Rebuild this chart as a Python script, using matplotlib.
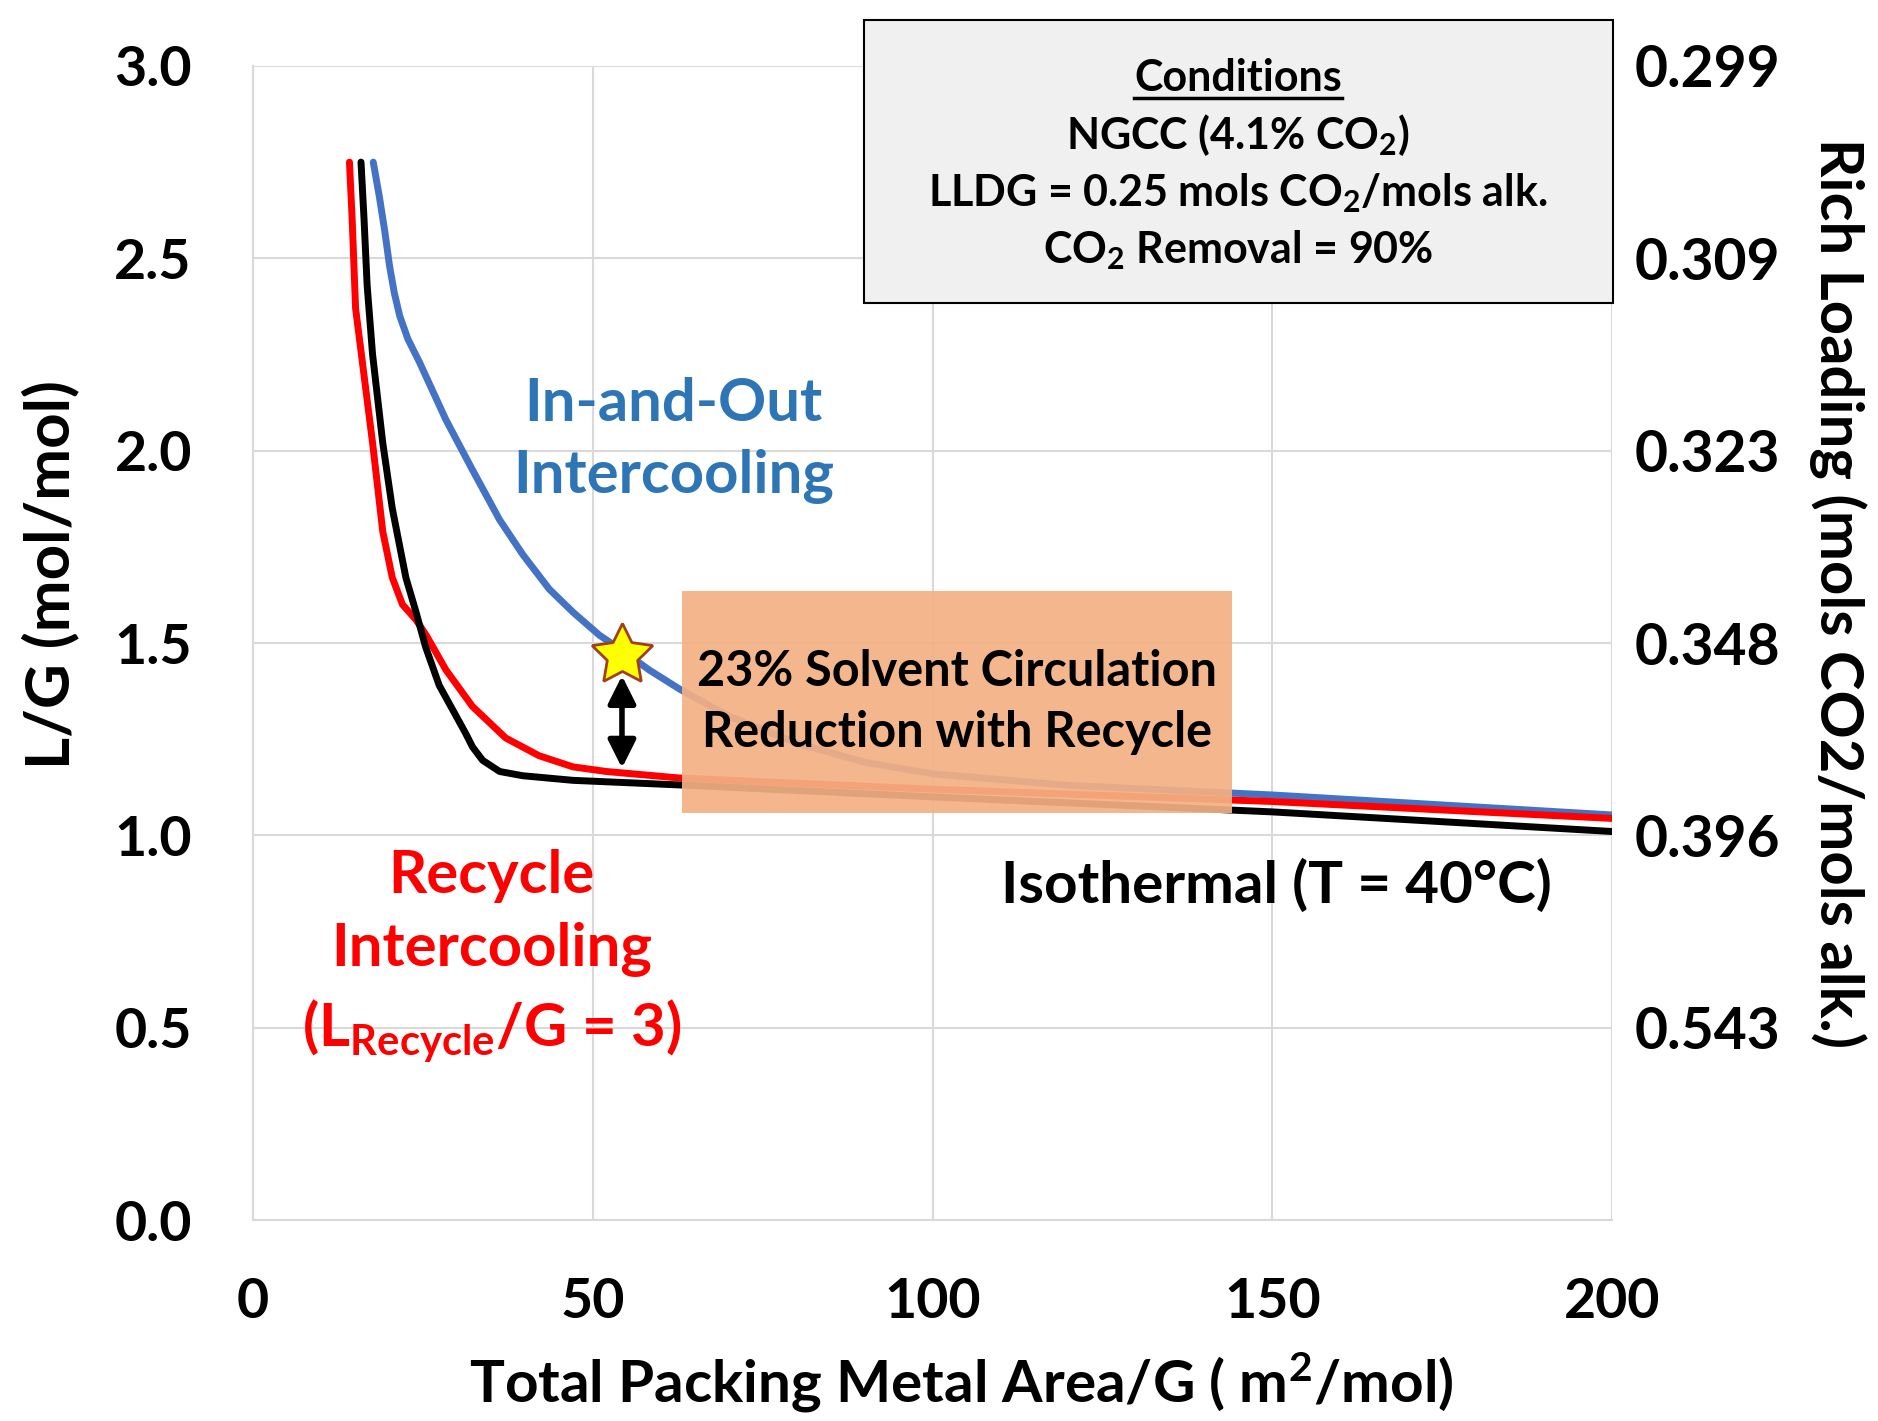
import matplotlib
matplotlib.use("Agg")
import matplotlib.pyplot as plt
from matplotlib.patches import Rectangle
from matplotlib.lines import Line2D

plt.rcParams['font.family'] = ['Lato', 'DejaVu Sans']
plt.rcParams['font.weight'] = 'bold'
plt.rcParams['axes.labelweight'] = 'bold'
plt.rcParams['mathtext.default'] = 'regular'

# curves (x = packing area / G, y = L/G)
x_blue = [17.7, 18.6, 19.4, 20.1, 20.8, 21.6, 22.8, 24.5, 28.4, 32.3, 36.3, 39.7,
          43.6, 47.1, 51.0, 54.4, 58.3, 62.8, 70, 80, 90, 100, 120, 150, 200]
y_blue = [2.75, 2.66, 2.57, 2.48, 2.41, 2.35, 2.29, 2.23, 2.08, 1.95, 1.82, 1.73,
          1.64, 1.58, 1.52, 1.48, 1.43, 1.38, 1.31, 1.24, 1.19, 1.16, 1.13, 1.105, 1.053]

x_red = [14.2, 14.6, 15.1, 16.1, 17.6, 19.1, 20.5, 22.0, 24.0, 25.5, 28.4, 32.3,
         37.2, 42.1, 47.1, 52.0, 62.8, 100, 150, 200]
y_red = [2.75, 2.60, 2.37, 2.23, 2.02, 1.79, 1.67, 1.60, 1.56, 1.52, 1.43, 1.335,
         1.253, 1.207, 1.178, 1.166, 1.149, 1.12, 1.088, 1.044]

x_black = [15.9, 16.35, 16.8, 17.6, 19.1, 20.5, 22.5, 24.0, 25.4, 27.4, 29.9, 31.3,
           32.3, 33.8, 36.3, 39.7, 47.1, 62.8, 100, 150, 200]
y_black = [2.75, 2.60, 2.43, 2.25, 2.02, 1.85, 1.67, 1.58, 1.49, 1.39, 1.31, 1.265,
           1.23, 1.195, 1.166, 1.155, 1.143, 1.131, 1.10, 1.061, 1.010]

star_x, star_y = 54.3, 1.47
arrow_x, arrow_top, arrow_bottom = 54.3, 1.415, 1.175

y_ticks = [0.0, 0.5, 1.0, 1.5, 2.0, 2.5, 3.0]
y_ticklabels = ["0.0", "0.5", "1.0", "1.5", "2.0", "2.5", "3.0"]
rich_loading = ["", "0.543", "0.396", "0.348", "0.323", "0.309", "0.299"]
x_ticks = [0, 50, 100, 150, 200]

box_x0, box_x1, box_y0, box_y1 = 63.1, 144.1, 1.057, 1.636

fig = plt.figure(figsize=(18.78, 14.21), dpi=100)
ax = fig.add_axes([0.1347, 0.1414, 0.7237, 0.8122])

ax.plot(x_blue, y_blue, color="#4472C4", lw=5, solid_capstyle="round", zorder=3)
ax.plot(x_red, y_red, color="#FF0000", lw=5, solid_capstyle="round", zorder=3)
ax.plot(x_black, y_black, color="black", lw=5, solid_capstyle="round", zorder=3)

ax.set_xlim(0, 200)
ax.set_ylim(0, 3.0)
ax.set_xticks(x_ticks)
ax.set_yticks(y_ticks)
ax.set_yticklabels(y_ticklabels)
ax.grid(True, color="#D9D9D9", lw=1.5)
ax.set_axisbelow(True)
for s in ["top", "right"]:
    ax.spines[s].set_visible(False)
for s in ["left", "bottom"]:
    ax.spines[s].set_color("#D9D9D9")
    ax.spines[s].set_linewidth(1.5)
ax.tick_params(length=0, labelsize=40)
ax.tick_params(axis="y", pad=44)
ax.tick_params(axis="x", pad=41)

ax.set_xlabel("Total Packing Metal Area/G ( m$^2$/mol)", fontsize=42)
ax.xaxis.set_label_coords(0.5215, -0.113)
ax.set_ylabel("L/G (mol/mol)", fontsize=44.5, va="center")
ax.yaxis.set_label_coords(-0.1494, 0.559)

ax2 = ax.twinx()
ax2.set_ylim(ax.get_ylim())
ax2.set_yticks(y_ticks)
ax2.set_yticklabels(rich_loading)
ax2.tick_params(length=0, labelsize=41, pad=16)
for s in ax2.spines.values():
    s.set_visible(False)
ax2.set_ylabel("Rich Loading (mols CO2/mols alk.)", fontsize=43, rotation=270, va="center")
ax2.yaxis.set_label_coords(1.1663, 0.5433)

# star and double arrow
ax.plot(star_x, star_y, marker=(5, 1, 0), ms=46, mfc="#FFFF00", mec="#A0401A", mew=2, zorder=6)
ax.annotate("", xy=(arrow_x, arrow_bottom), xytext=(arrow_x, arrow_top),
            arrowprops=dict(arrowstyle="<|-|>", lw=4, color="black", mutation_scale=42,
                            shrinkA=0, shrinkB=0), zorder=6)

# orange callout
ax.add_patch(Rectangle((box_x0, box_y0), box_x1 - box_x0, box_y1 - box_y0,
                       facecolor="#F4B183", edgecolor="none", alpha=0.92, zorder=5))
ax.text((box_x0 + box_x1) / 2, (box_y0 + box_y1) / 2,
        "23% Solvent Circulation\nReduction with Recycle",
        ha="center", va="center", fontsize=35, linespacing=1.45, zorder=7)

# curve labels
ax.text(61.9, 2.027, "In-and-Out\nIntercooling", color="#2E75B6", fontsize=43,
        ha="center", va="center", linespacing=1.42)
ax.text(35.1, 0.684, "Recycle\nIntercooling\n(L$_{Recycle}$/G = 3)", color="#FF0000",
        fontsize=43, ha="center", va="center", linespacing=1.42)
ax.text(150.6, 0.868, "Isothermal (T = 40°C)", color="black", fontsize=42,
        ha="center", va="center")

# conditions box
fig.patches.append(Rectangle((0.4598, 0.7868), 0.3992, 0.1988, transform=fig.transFigure,
                             facecolor="#F0F0F0", edgecolor="black", lw=1.5, zorder=8))
cond_lines = ["Conditions", "NGCC (4.1% CO$_2$)", "LLDG = 0.25 mols CO$_2$/mols alk.",
              "CO$_2$ Removal = 90%"]
cond_y = [0.9451, 0.905, 0.8642, 0.8241]
texts = []
for s, yy in zip(cond_lines, cond_y):
    texts.append(fig.text(0.6592, yy, s, fontsize=31, ha="center", va="center", zorder=9))

fig.canvas.draw()
bb = texts[0].get_window_extent().transformed(fig.transFigure.inverted())
fig.lines.append(Line2D([bb.x0, bb.x1], [bb.y0, bb.y0],
                        transform=fig.transFigure, color="black", lw=2.5, zorder=9))

fig.savefig("out.png", dpi=100)
